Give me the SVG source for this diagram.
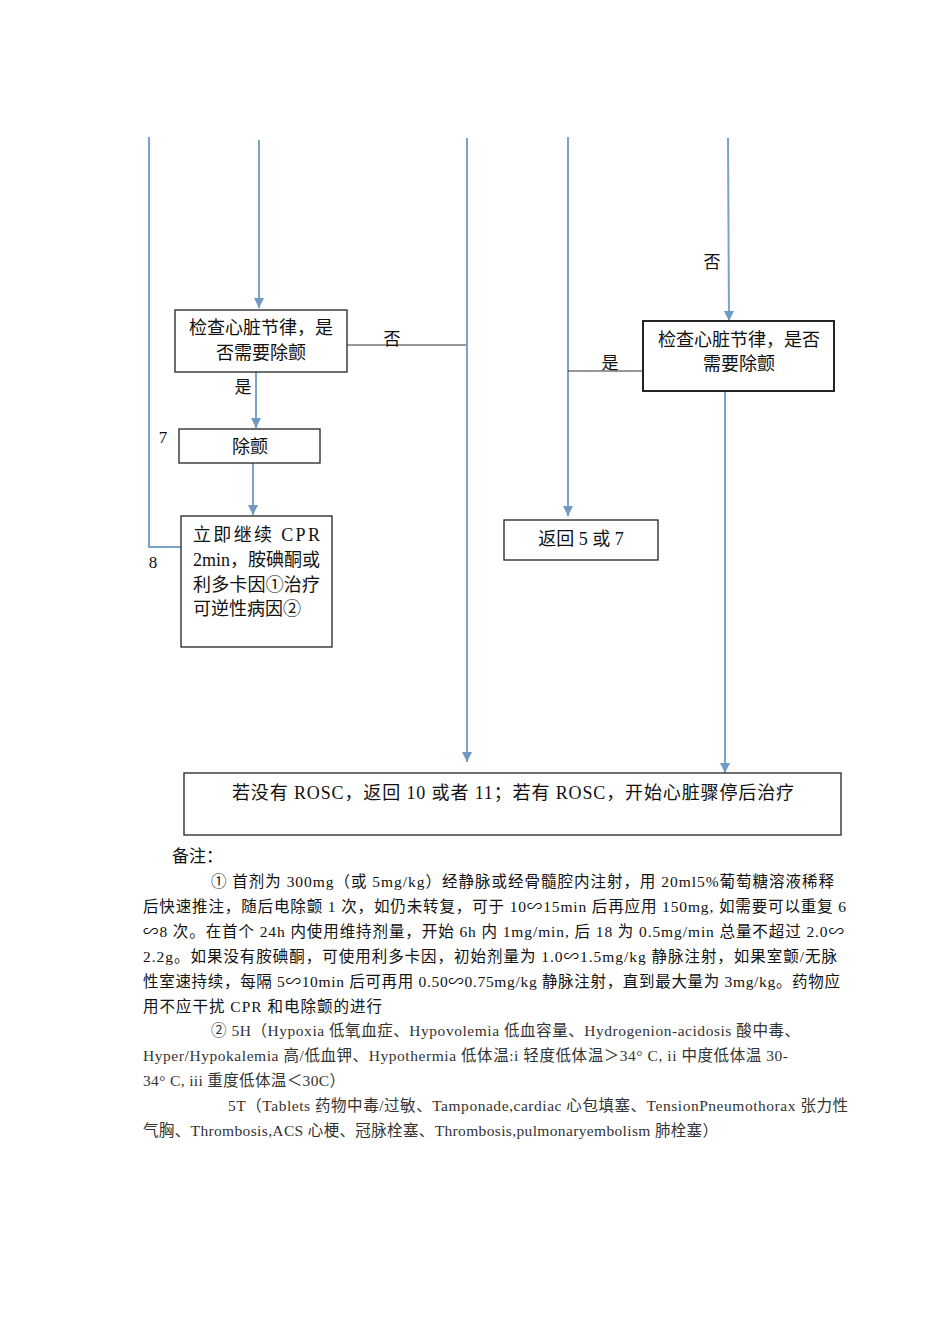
<svg xmlns="http://www.w3.org/2000/svg" width="950" height="1344" viewBox="0 0 950 1344">
<style>
text{font-family:"Liberation Serif","Noto Sans CJK SC",serif;fill:#111}
.b{font-size:18px}
.n{font-size:15.5px}
.g{fill:#333}
.box{fill:#fff;stroke:#222;stroke-width:1.3}
.thick{stroke-width:2}
.c{fill:none;stroke:#7ba3c9;stroke-width:2}
.k{fill:none;stroke:#333;stroke-width:1.2}
</style>
<defs>
<marker id="ah" markerUnits="userSpaceOnUse" markerWidth="10" markerHeight="11" refX="10" refY="5" orient="auto">
<path d="M0,0 L10,5 L0,10 z" fill="#6f9bc3"/>
</marker>
</defs>
<rect width="950" height="1344" fill="#fff"/>
<g id="connectors">
<polyline class="c" points="149,137 149,547 181,547"/>
<line class="c" x1="259" y1="140" x2="259" y2="308" marker-end="url(#ah)"/>
<line class="k" x1="347" y1="345" x2="467" y2="345"/>
<line class="c" x1="467" y1="138" x2="467" y2="762" marker-end="url(#ah)"/>
<line class="c" x1="256" y1="372" x2="256" y2="428" marker-end="url(#ah)"/>
<line class="c" x1="253" y1="463" x2="253" y2="515" marker-end="url(#ah)"/>
<line class="c" x1="568" y1="137" x2="568" y2="516" marker-end="url(#ah)"/>
<line class="k" x1="568" y1="371" x2="643" y2="371"/>
<line class="c" x1="728" y1="138" x2="729" y2="321" marker-end="url(#ah)"/>
<line class="c" x1="725" y1="391" x2="725" y2="773" marker-end="url(#ah)"/>
<text class="b" x="392" y="345" text-anchor="middle" style="font-size:17px">否</text>
<text class="b" x="243" y="393" text-anchor="middle" style="font-size:17px">是</text>
<text class="b" x="610" y="369" text-anchor="middle" style="font-size:17px">是</text>
<text class="b" x="712" y="268" text-anchor="middle" style="font-size:17px">否</text>
<text class="b" x="163" y="443" text-anchor="middle" style="font-size:17px">7</text>
<text class="b" x="153" y="568" text-anchor="middle" style="font-size:17px">8</text>
</g>
<g id="check1">
<rect class="box" x="175" y="310" width="172" height="62"/>
<text class="b" x="261" y="334" text-anchor="middle">检查心脏节律，是</text>
<text class="b" x="261" y="359" text-anchor="middle">否需要除颤</text>
</g>
<g id="defib">
<rect class="box" x="179" y="429" width="141" height="34"/>
<text class="b" x="250" y="453" text-anchor="middle">除颤</text>
</g>
<g id="cpr">
<rect class="box" x="181" y="516" width="151" height="131"/>
<text class="b" x="193" y="541" textLength="127" lengthAdjust="spacing">立即继续 CPR</text>
<text class="b" x="193" y="566" textLength="127" lengthAdjust="spacing">2min，胺碘酮或</text>
<text class="b" x="193" y="591" textLength="127" lengthAdjust="spacing">利多卡因①治疗</text>
<text class="b" x="193" y="615">可逆性病因②</text>
</g>
<g id="return57">
<rect class="box" x="504" y="520" width="154" height="40"/>
<text class="b" x="581" y="545" text-anchor="middle">返回 5 或 7</text>
</g>
<g id="check2">
<rect class="box thick" x="643" y="321" width="191" height="70"/>
<text class="b" x="739" y="346" text-anchor="middle">检查心脏节律，是否</text>
<text class="b" x="739" y="370" text-anchor="middle">需要除颤</text>
</g>
<g id="rosc">
<rect class="box" x="184" y="773" width="657" height="62"/>
<text class="b" x="232" y="799" textLength="562" lengthAdjust="spacing">若没有 ROSC，返回 10 或者 11；若有 ROSC，开始心脏骤停后治疗</text>
</g>
<g id="notes">
<text class="n" x="172" y="862" style="font-size:17px">备注：</text>
<text class="n" x="211" y="887" textLength="623" lengthAdjust="spacing">① 首剂为 300mg（或 5mg/kg）经静脉或经骨髓腔内注射，用 20ml5%葡萄糖溶液稀释</text>
<text class="n" x="143" y="912" textLength="703" lengthAdjust="spacing">后快速推注，随后电除颤 1 次，如仍未转复，可于 10∽15min 后再应用 150mg, 如需要可以重复 6</text>
<text class="n" x="143" y="937" textLength="701" lengthAdjust="spacing">∽8 次。在首个 24h 内使用维持剂量，开始 6h 内 1mg/min, 后 18 为 0.5mg/min 总量不超过 2.0∽</text>
<text class="n" x="143" y="962" textLength="694" lengthAdjust="spacing">2.2g。如果没有胺碘酮，可使用利多卡因，初始剂量为 1.0∽1.5mg/kg 静脉注射，如果室颤/无脉</text>
<text class="n" x="143" y="987" textLength="697" lengthAdjust="spacing">性室速持续，每隔 5∽10min 后可再用 0.50∽0.75mg/kg 静脉注射，直到最大量为 3mg/kg。药物应</text>
<text class="n" x="143" y="1012" textLength="239" lengthAdjust="spacing">用不应干扰 CPR 和电除颤的进行</text>
<text class="n g" x="211" y="1036" textLength="589" lengthAdjust="spacing">② 5H（Hypoxia 低氧血症、Hypovolemia 低血容量、Hydrogenion-acidosis 酸中毒、</text>
<text class="n g" x="143" y="1061" textLength="645" lengthAdjust="spacing">Hyper/Hypokalemia 高/低血钾、Hypothermia 低体温:i 轻度低体温＞34° C, ii 中度低体温 30-</text>
<text class="n g" x="143" y="1086" textLength="202" lengthAdjust="spacing">34° C, iii 重度低体温＜30C）</text>
<text class="n g" x="228" y="1111" textLength="620" lengthAdjust="spacing">5T（Tablets 药物中毒/过敏、Tamponade,cardiac 心包填塞、TensionPneumothorax 张力性</text>
<text class="n g" x="143" y="1136" textLength="575" lengthAdjust="spacing">气胸、Thrombosis,ACS 心梗、冠脉栓塞、Thrombosis,pulmonaryembolism 肺栓塞）</text>
</g>
</svg>
